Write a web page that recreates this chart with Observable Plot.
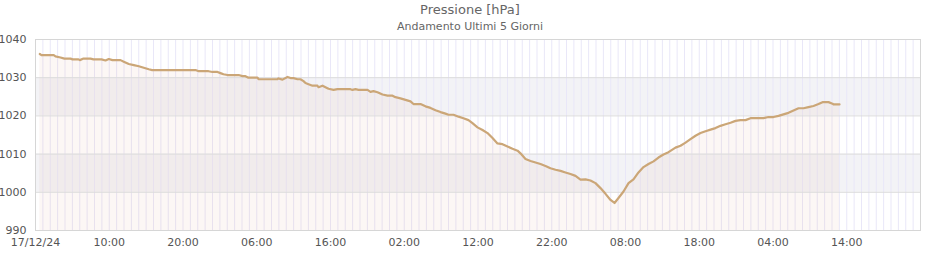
<!DOCTYPE html>
<html>
<head>
<meta charset="utf-8">
<script src="https://cdn.jsdelivr.net/npm/d3@7"></script>
<script src="https://cdn.jsdelivr.net/npm/@observablehq/plot@0.6"></script>
<style>
  html, body { margin: 0; padding: 0; background: #fff; }
  body { width: 940px; height: 260px; overflow: hidden; font-family: "DejaVu Sans", sans-serif; }
  #title { height: 20px; line-height: 20px; text-align: center; font-size: 13px; color: #666; }
  #subtitle { height: 14px; line-height: 14px; text-align: center; font-size: 11px; color: #666; }
  #chart svg { display: block; }
</style>
</head>
<body>
<div id="title">Pressione [hPa]</div>
<div id="subtitle">Andamento Ultimi 5 Giorni</div>
<div id="chart"></div>
<script>
// hours since 17/12/24 00:00
const hours = [0.58,0.81,2.48,2.71,3.39,3.93,4.75,5.02,5.83,6.01,6.51,7.46,7.86,8.95,9.49,9.94,10.44,11.53,11.97,12.65,13.33,14.01,14.68,15.36,15.82,21.69,22.14,23.46,24.0,24.68,25.08,25.49,26.03,27.53,28.07,28.47,28.88,30.10,30.24,32.81,32.95,33.49,34.17,34.58,34.98,35.53,35.93,36.34,36.61,37.02,37.56,38.24,38.37,38.92,39.32,39.73,40.41,40.95,42.71,42.98,43.39,43.80,45.02,45.42,45.83,46.37,47.05,47.73,48.41,48.81,49.49,50.17,50.85,51.25,52.20,52.88,53.56,54.24,54.92,55.59,56.0,56.68,57.36,58.03,58.71,59.25,59.93,60.61,61.29,61.97,62.64,63.32,64.0,64.68,65.36,65.76,66.44,67.12,67.80,68.47,69.15,69.83,70.51,71.19,71.86,72.54,73.22,73.90,74.58,75.25,75.93,76.61,77.29,77.97,78.51,79.05,79.73,80.41,81.08,81.76,82.44,83.12,83.80,84.47,85.15,85.83,86.78,87.46,88.14,88.81,89.49,90.17,90.85,91.53,92.20,92.88,93.56,94.24,94.92,95.59,96.27,96.95,98.71,99.39,100.07,100.75,101.42,102.10,102.78,103.46,104.14,104.81,105.49,106.17,106.71,107.53,108.07,108.20,109.02];
const pressure = [1036.2,1035.9,1035.9,1035.6,1035.3,1035.0,1035.0,1034.8,1034.8,1034.6,1035.0,1035.0,1034.8,1034.8,1034.5,1034.9,1034.6,1034.6,1034.2,1033.6,1033.3,1033.0,1032.6,1032.2,1032.0,1032.0,1031.7,1031.7,1031.5,1031.5,1031.2,1030.9,1030.7,1030.7,1030.4,1030.4,1030.0,1030.0,1029.6,1029.6,1029.8,1029.5,1030.2,1029.9,1029.9,1029.6,1029.6,1029.1,1028.6,1028.3,1027.9,1027.9,1027.5,1027.9,1027.5,1027.1,1026.8,1027.0,1027.0,1026.8,1027.0,1026.8,1026.8,1026.3,1026.5,1026.2,1025.6,1025.3,1025.3,1024.9,1024.6,1024.2,1023.8,1023.1,1023.1,1022.5,1022.1,1021.5,1021.0,1020.6,1020.3,1020.3,1019.8,1019.4,1018.9,1018.1,1017.0,1016.3,1015.5,1014.2,1012.8,1012.6,1012.0,1011.4,1010.9,1010.2,1008.7,1008.2,1007.8,1007.4,1006.9,1006.3,1005.9,1005.6,1005.2,1004.8,1004.3,1003.3,1003.4,1003.1,1002.4,1001.1,999.6,998.0,997.2,998.5,1000.2,1002.4,1003.4,1005.2,1006.6,1007.4,1008.1,1009.1,1009.9,1010.5,1011.7,1012.2,1013.0,1013.9,1014.8,1015.5,1016.0,1016.4,1016.8,1017.4,1017.8,1018.2,1018.7,1018.9,1018.9,1019.4,1019.4,1019.7,1019.7,1020.0,1020.4,1020.8,1021.4,1022.0,1022.0,1022.3,1022.6,1023.1,1023.6,1023.6,1023.2,1023.0,1023.0];
const xTicks = [0,10,20,30,40,50,60,70,80,90,100,110];
const xTickLabels = ["17/12/24","10:00","20:00","06:00","16:00","02:00","12:00","22:00","08:00","18:00","04:00","14:00"];
const yTicks = [990,1000,1010,1020,1030,1040];
const bandLow = [1000,1020];
const bandHigh = [1010,1030];
const xDomain = [0,120];
const yDomain = [990,1040];

const data = hours.map((h,i) => ({h, p: pressure[i]}));
const bands = bandLow.map((lo,i) => ({lo, hi: bandHigh[i]}));
const hourGrid = d3.range(xDomain[0], xDomain[1] + 1);

const chart = Plot.plot({
  width: 940,
  height: 226,
  marginLeft: 35,
  marginRight: 20,
  marginTop: 5,
  marginBottom: 30,
  style: {fontFamily: "DejaVu Sans, sans-serif", fontSize: "11px", color: "#555", background: "transparent"},
  x: {domain: xDomain, ticks: xTicks, tickFormat: (d) => xTickLabels[xTicks.indexOf(d)], tickSize: 0, tickPadding: 8, label: null},
  y: {domain: yDomain, ticks: yTicks, tickSize: 0, tickPadding: 9, label: null, tickFormat: d => String(d)},
  marks: [
    Plot.rect(bands, {x1: xDomain[0], x2: xDomain[1], y1: "lo", y2: "hi", fill: "#f3f3f6"}),
    Plot.ruleX(hourGrid, {stroke: "#e9e7f8", strokeWidth: 1}),
    Plot.areaY(data, {x: "h", y1: yDomain[0], y2: "p", fill: "#d9a98f", fillOpacity: 0.09}),
    Plot.ruleY(yTicks, {stroke: "#dcdcdc", strokeWidth: 1}),
    Plot.frame({stroke: "#d6d6d6"}),
    Plot.line(data, {x: "h", y: "p", stroke: "#cba677", strokeWidth: 2.2})
  ]
});
document.getElementById("chart").appendChild(chart);
</script>
</body>
</html>
